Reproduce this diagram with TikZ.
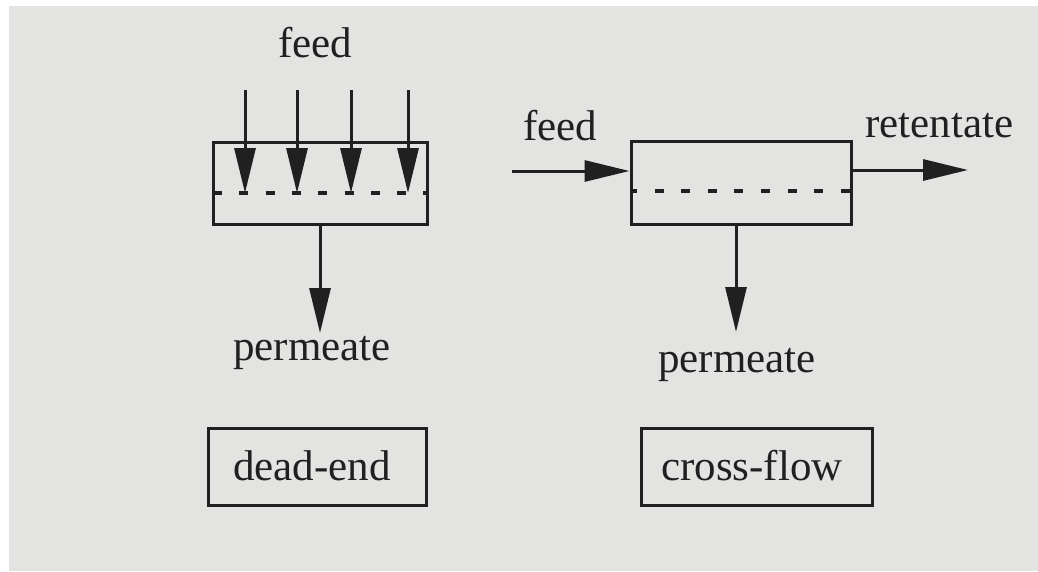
\documentclass[tikz,border=0pt]{standalone}
\usepackage{fontspec}
\setmainfont{Liberation Serif}
\usetikzlibrary{arrows.meta}
\definecolor{paper}{RGB}{227,227,226}
\definecolor{ink}{RGB}{32,32,32}
\tikzset{
  lbl/.style={inner sep=0pt, anchor=base, text=ink, font=\fontsize{43}{50}\selectfont},
  unit/.style={draw=ink, line width=3pt, inner sep=0pt},
  flow/.style={draw=ink, line width=3pt, -{Triangle[length=45pt,width=21pt]}},
  membrane/.style={draw=ink, line width=3.5pt},
}
\begin{document}
\begin{tikzpicture}[x=1pt,y=-1pt]
\fill[white] (0,0) rectangle (1038,571);
\fill[paper] (9,6) rectangle (1038,571);
\useasboundingbox (0,0) rectangle (1038,571);
% dead-end
\node[unit, minimum width=214pt, minimum height=82pt] (de) at (320,183) {};
\node[lbl] (feedA) at (315,57) {feed};
\foreach \i/\x in {1/245,2/297,3/351,4/408}{
  \coordinate (s\i) at (\x,90);
  \coordinate (t\i) at (\x,193);
  \draw[flow] (s\i) -- (t\i);
}
\coordinate (mA1) at (213,193);
\coordinate (mA2) at (427,193);
\draw[membrane, dash pattern=on 9pt off 17.3pt] (mA1) -- (mA2);
\coordinate (pA) at (320,333);
\draw[flow] (de.south -| pA) -- (pA);
\node[lbl] (permA) at (312,360) {permeate};
\node[unit, minimum width=218pt, minimum height=77pt] (deb) at (317,466.5) {};
\node[lbl] at (312,480) {dead-end};
% cross-flow
\node[unit, minimum width=220pt, minimum height=83pt] (cf) at (741,182.5) {};
\node[lbl, anchor=base west] (feedB) at (523,140) {feed};
\coordinate (fin) at (512,171);
\draw[flow] (fin) -- (fin -| cf.west);
\coordinate (rout) at (968,170);
\draw[flow] (rout -| cf.east) -- (rout);
\node[lbl, anchor=base west] (ret) at (865,137) {retentate};
\coordinate (mB1) at (631,191);
\coordinate (mB2) at (851,191);
\draw[membrane, dash pattern=on 9pt off 17.6pt, dash phase=3pt] (mB1) -- (mB2);
\coordinate (pB) at (736,332);
\draw[flow] (cf.south -| pB) -- (pB);
\node[lbl] (permB) at (737,372) {permeate};
\node[unit, minimum width=231pt, minimum height=77pt] (cfb) at (756.5,466.5) {};
\node[lbl] at (752,480) {cross-flow};
\end{tikzpicture}
\end{document}
